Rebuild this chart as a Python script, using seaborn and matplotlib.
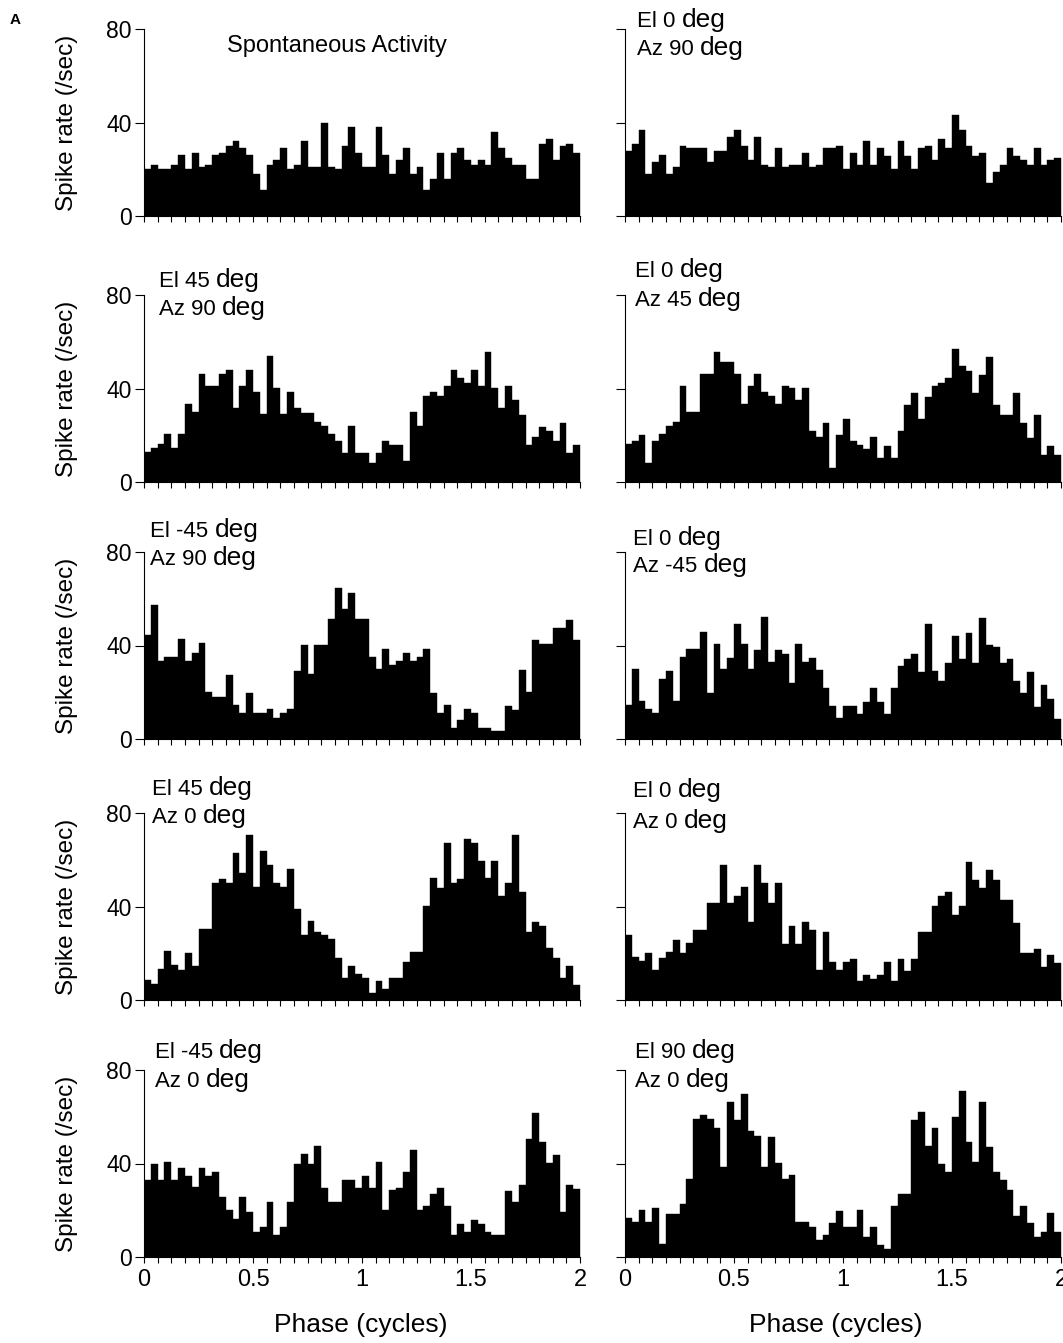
import numpy as np
import pandas as pd
import matplotlib
matplotlib.use("Agg")
import matplotlib.pyplot as plt
from matplotlib.text import Annotation
from matplotlib.ticker import FixedLocator, MultipleLocator
import seaborn as sns

# ---------------- data (spike rate, /sec, 64 bins over 2 cycles) ----------------
spont = [20, 22, 20, 20, 22, 26, 20, 27, 21, 22, 26, 27, 30, 32, 29, 26, 18, 11, 22, 24,
         29, 20, 22, 32, 21, 21, 40, 21, 20, 30, 38, 27, 21, 21, 38, 26, 18, 24, 29, 18,
         21, 11, 16, 27, 16, 27, 29, 24, 22, 24, 22, 36, 29, 25, 22, 22, 16, 16, 31, 33,
         24, 30, 31, 27]
el0_az90 = [28, 31, 37, 18, 23, 26, 18, 21, 30, 29, 29, 29, 23, 28, 28, 34, 37, 30, 24, 34,
            22, 21, 29, 21, 22, 22, 27, 21, 22, 29, 29, 30, 20, 27, 22, 32, 22, 29, 25.5, 20,
            32, 25.5, 20, 29, 30, 24, 33, 29, 43, 37, 30, 25.5, 27, 14, 19, 22, 29, 25.5, 24, 22,
            29, 22, 24, 25]
el45_az90 = [13, 14.4, 16.3, 20.4, 14.4, 20.4, 33.4, 29.9, 46.3, 41, 41, 46.3, 48, 31.7, 41, 48,
             38.7, 29, 54, 40.3, 29, 38.4, 31.7, 29.4, 29.7, 25.6, 24, 20.4, 17.7, 12.4, 23.9, 12.4,
             12.4, 8.3, 12.4, 17.6, 16, 16, 9, 29.9, 24, 36.6, 38.3, 36.7, 41, 48, 44.4, 42.4,
             48, 41, 55.6, 40.1, 31.6, 41, 34.9, 28.7, 15.9, 19.3, 23.6, 21.9, 17.4, 25.1, 12.3, 15.7]
el0_az45 = [16.3, 17.7, 20.3, 8.3, 17.7, 20.6, 23.9, 25.5, 41.2, 29.9, 29.9, 46.3, 46.3, 55.8, 51.4, 51.4,
            46.2, 33.2, 41.2, 46.2, 38.4, 36.8, 33.2, 41, 40.1, 35, 40.1, 21.9, 19.4, 25.3, 6.2, 20.1,
            26.9, 17.6, 15.8, 14, 19.1, 10.4, 15.5, 10.4, 21.9, 33.1, 38.1, 26.9, 36.4, 40.9, 42.4, 44.3,
            57.1, 49.5, 47.5, 38, 45.9, 53.5, 32.8, 28.6, 28.6, 38, 25.2, 18.8, 28.5, 11.7, 15.3, 11.7]
elm45_az90 = [44.5, 57.3, 33.5, 35.2, 35.2, 42.7, 33.5, 36.7, 41, 19.9, 18.1, 18.1, 27.4, 14.7, 11.3, 19.8,
              11.3, 11.3, 12.7, 8.8, 11.2, 12.7, 29.1, 40.1, 27.7, 40.1, 40.1, 51.3, 64.8, 55.5, 62.3, 51.3,
              51.3, 35, 29.8, 38.3, 31.6, 33.3, 36.6, 33.2, 34.9, 38.3, 19.6, 11.2, 14.4, 4.9, 8.3, 12.7,
              11, 4.9, 4.9, 3.4, 3.4, 14.3, 12.6, 29.7, 20.2, 42.4, 40.7, 40.7, 47.5, 47.5, 50.8, 42.2]
el0_azm45 = [14.6, 30, 16.4, 12.7, 11.2, 25.6, 29, 16.3, 35, 38.4, 38.4, 45.9, 19.8, 40.8, 29.9, 34.8,
             49.3, 40.8, 29.9, 38.1, 52, 33.1, 38.1, 36.4, 23.9, 40.7, 33.1, 34.7, 29.6, 22, 14.2, 8.9,
             14, 14, 10.6, 16, 21.7, 16, 10.6, 21.7, 31.2, 34.4, 36.3, 28.5, 49, 29.3, 24.9, 32.7,
             43.9, 34.4, 45.3, 32.7, 51.6, 40.4, 39.5, 32.7, 34.4, 24.9, 19.8, 28.5, 13.7, 23.2, 17.1, 8.6]
el45_az0 = [8.6, 6.9, 13.1, 20.8, 14.8, 12.9, 20, 14.7, 30.2, 30.2, 50, 51.9, 50, 62.9, 54.3, 70.7,
            48.3, 63.8, 57.8, 50, 48.3, 56, 38.9, 27.6, 33.6, 29.3, 27.6, 25.9, 18, 9.2, 14.7, 11.2,
            9.2, 3.2, 8.3, 4.9, 9.2, 9.2, 16.2, 20.5, 20.5, 40.4, 52.4, 48.1, 67.2, 49.9, 51.6, 68.7,
            67.2, 59.3, 52.4, 59.3, 44.7, 49.9, 70.4, 46.4, 29.2, 33.5, 31.8, 22.1, 18, 9.2, 14.4, 6.6]
el0_az0 = [27.8, 18.3, 16.5, 19.9, 12.9, 18.1, 20.6, 25.8, 20.1, 24.2, 30.1, 30.1, 41.3, 41.3, 57.7, 41.3,
           44.7, 48.2, 33.4, 57.7, 49.9, 41.3, 49.9, 24, 31.7, 24, 33.4, 29.9, 12.7, 29.1, 16.1, 12.7,
           16.1, 17.7, 8.3, 10.8, 9.1, 10.8, 16.1, 8.2, 17.6, 12.4, 17.6, 28.9, 28.9, 40.3, 44.3, 46,
           36.5, 40.3, 59, 51.2, 47.9, 55.5, 51.2, 42.6, 42.6, 32.9, 20, 20, 21.9, 14, 19.3, 15.8]
elm45_az0 = [33, 39.7, 33, 40.7, 33, 38.1, 34.6, 29.8, 38.1, 34.6, 36.3, 25.6, 20.2, 16.1, 25.6, 19.4,
             10.9, 12.7, 23.7, 9.3, 12.7, 23.7, 39.7, 43.9, 39.7, 47.3, 29.7, 23.7, 23.7, 33, 33, 29.7,
             34.6, 29.7, 40.5, 20.2, 28.7, 29.7, 36.3, 45.6, 20.2, 21.9, 27, 29.5, 21.9, 9.3, 14.1, 10.7,
             15.8, 14.1, 10.7, 9.3, 9.3, 28.4, 23.4, 30.9, 50.6, 61.4, 49, 40.3, 43.5, 19.1, 30.8, 29.2]
el90_az0 = [16.6, 14.9, 19.9, 14.8, 20.9, 5.5, 18.3, 18.3, 22.6, 33.5, 59.1, 60.6, 59, 55.3, 38.6, 66.5,
            58.7, 69.8, 53.9, 51.9, 38.6, 51.2, 40.1, 33.5, 34.9, 14.8, 14.8, 13, 7.1, 9.5, 14.6, 19.6,
            12.9, 12.9, 20.3, 8.7, 12.8, 5.1, 3.3, 22, 27.1, 27.1, 58.6, 62, 47.7, 55.2, 39.7, 36.5,
            60.1, 71.2, 49.1, 40.6, 66.2, 47.2, 36.2, 32.9, 28.7, 17.6, 21.8, 14.5, 8.5, 10.8, 19, 10.9]

series = [spont, el0_az90, el45_az90, el0_az45, elm45_az90,
          el0_azm45, el45_az0, el0_az0, elm45_az0, el90_az0]
el_labels = [None, "El 0", "El 45", "El 0", "El -45", "El 0", "El 45", "El 0", "El -45", "El 90"]
az_labels = [None, "Az 90", "Az 90", "Az 45", "Az 90", "Az -45", "Az 0", "Az 0", "Az 0", "Az 0"]
x_tick_values = [0, 0.5, 1, 1.5, 2]
x_tick_labels = ["0", "0.5", "1", "1.5", "2"]
y_tick_values = [0, 40, 80]
y_tick_labels = ["0", "40", "80"]

N_BINS = 64
phase = (np.arange(N_BINS) + 0.5) / 32.0   # bin centres (cycles)

# ---------------- layout (pixels) ----------------
W, H = 1063, 1343
row_tops = [29, 295, 552, 813, 1070]
ax_h = 187
col_lefts = [144, 625]
ax_w = 436
# (x start, El baseline, Az baseline) per panel
label_pos = [None, (637, 27, 55), (159, 287, 315), (635, 277, 306), (150, 537, 565),
             (633, 545, 572), (152, 795, 823), (633, 797, 828), (155, 1058, 1087), (635, 1058, 1087)]

sns.set_theme(style="ticks", rc={
    "axes.edgecolor": "black", "xtick.color": "black", "ytick.color": "black",
    "text.color": "black", "axes.labelcolor": "black", "axes.linewidth": 0.8,
})
plt.rcParams["font.family"] = ["Liberation Sans", "DejaVu Sans"]

fig = plt.figure(figsize=(W / 100, H / 100), dpi=100)


def fx(px):
    return px / W


def fy(py):
    return 1 - py / H


def two_part(x_px, base_px, prefix):
    t1 = fig.text(fx(x_px), fy(base_px), prefix, ha="left", va="baseline", fontsize=16)
    ann = Annotation("deg", xy=(1, fy(base_px)), xycoords=(t1, "figure fraction"),
                     xytext=(4.5, 0), textcoords="offset points",
                     ha="left", va="baseline", fontsize=19)
    fig.add_artist(ann)


for i, vals in enumerate(series):
    r, c = divmod(i, 2)
    left, top = col_lefts[c], row_tops[r]
    ax = fig.add_axes([fx(left), fy(top + ax_h), ax_w / W, ax_h / H])
    df = pd.DataFrame({"phase": phase, "rate": vals})
    sns.histplot(data=df, x="phase", weights="rate", bins=N_BINS, binrange=(0, 2),
                 element="step", fill=True, color="black", alpha=1,
                 edgecolor="black", linewidth=0.3, ax=ax)
    ax.set_xlim(0, 2)
    ax.set_ylim(0, 80)
    sns.despine(ax=ax)
    ax.set_xlabel("")
    ax.set_ylabel("")
    ax.xaxis.set_major_locator(FixedLocator(x_tick_values))
    ax.xaxis.set_minor_locator(MultipleLocator(1 / 16))
    ax.set_yticks(y_tick_values)
    ax.tick_params(axis="y", which="major", direction="out", length=6.5, width=0.8,
                   labelsize=16.5, pad=2.5)
    ax.tick_params(axis="x", which="both", direction="out", length=4, width=0.8,
                   labelsize=17, pad=5)
    if r == 4:
        ax.set_xticklabels(x_tick_labels)
    else:
        ax.set_xticklabels([])
    if c == 0:
        ax.set_yticklabels(y_tick_labels)
        fig.text(fx(67), fy(top + ax_h / 2), "Spike rate (/sec)", rotation=90,
                 ha="center", va="center", fontsize=17.5)
    else:
        ax.set_yticklabels([])
    if el_labels[i] is not None:
        xp, yb1, yb2 = label_pos[i]
        two_part(xp, yb1, el_labels[i])
        two_part(xp, yb2, az_labels[i])

fig.text(fx(337), fy(52), "Spontaneous Activity", ha="center", va="baseline", fontsize=17)
fig.text(fx(361), fy(1332), "Phase (cycles)", ha="center", va="baseline", fontsize=19)
fig.text(fx(836), fy(1332), "Phase (cycles)", ha="center", va="baseline", fontsize=19)
fig.text(fx(10), fy(24), "A", ha="left", va="baseline", fontsize=11, fontweight="bold")

fig.savefig("out.png", dpi=100)
